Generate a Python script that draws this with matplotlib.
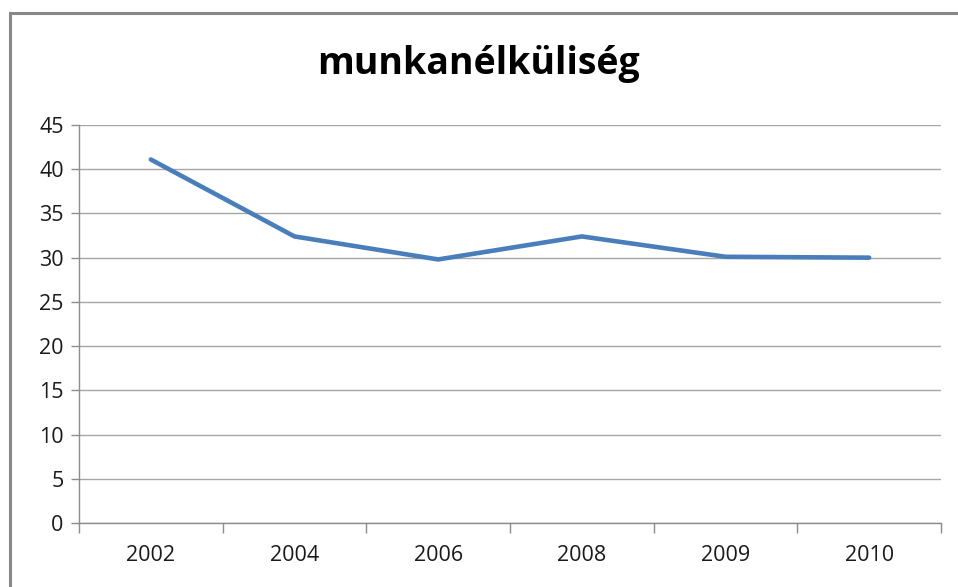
import matplotlib
matplotlib.use("Agg")
from matplotlib import pyplot as plt
from matplotlib.lines import Line2D

# munkanélküliség (unemployment) by year
years = ["2002", "2004", "2006", "2008", "2009", "2010"]
values = [41.1, 32.4, 29.8, 32.4, 30.1, 30.0]
y_ticks = [0, 5, 10, 15, 20, 25, 30, 35, 40, 45]

W, H = 958, 587
plt.rcParams["font.family"] = ["Open Sans", "DejaVu Sans"]

fig = plt.figure(figsize=(W / 100, H / 100), dpi=100)
ax = fig.add_axes([79 / W, 1 - 523 / H, (941 - 79) / W, (523 - 125) / H])

x = list(range(len(years)))
ax.plot(x, values, color="#4a7ebb", linewidth=3.3, solid_capstyle="round",
        solid_joinstyle="round", zorder=3)

ax.set_xlim(-0.5, len(years) - 0.5)
ax.set_ylim(0, 45)
ax.set_yticks(y_ticks)
ax.set_xticks(x)
ax.set_xticklabels(years)
ax.set_xticks([i - 0.5 for i in range(len(years) + 1)], minor=True)

ax.grid(axis="y", color="#a6a6a6", linewidth=1.0, zorder=0)
for side in ("top", "right"):
    ax.spines[side].set_visible(False)
for side in ("left", "bottom"):
    ax.spines[side].set_color("#8c8c8c")
    ax.spines[side].set_linewidth(1.0)

ax.tick_params(axis="y", length=6, width=1, color="#8c8c8c", pad=5,
               labelsize=15.5, labelcolor="#1a1a1a")
ax.tick_params(axis="x", which="major", length=0, pad=16,
               labelsize=15.5, labelcolor="#1a1a1a")
ax.tick_params(axis="x", which="minor", length=7, width=1, color="#8c8c8c")

fig.text(478 / W, 1 - 74 / H, "munkanélküliség", ha="center", va="baseline",
         fontsize=27, fontweight="bold", color="#000000")

# chart frame (only top and left edges visible in the crop)
fig.add_artist(Line2D([9.5 / W, 9.5 / W], [0, 1 - 12.5 / H],
                      transform=fig.transFigure, color="#888888", linewidth=2.2))
fig.add_artist(Line2D([9.5 / W, 1], [1 - 12.5 / H, 1 - 12.5 / H],
                      transform=fig.transFigure, color="#888888", linewidth=2.2))

fig.savefig("out.png", dpi=100)
